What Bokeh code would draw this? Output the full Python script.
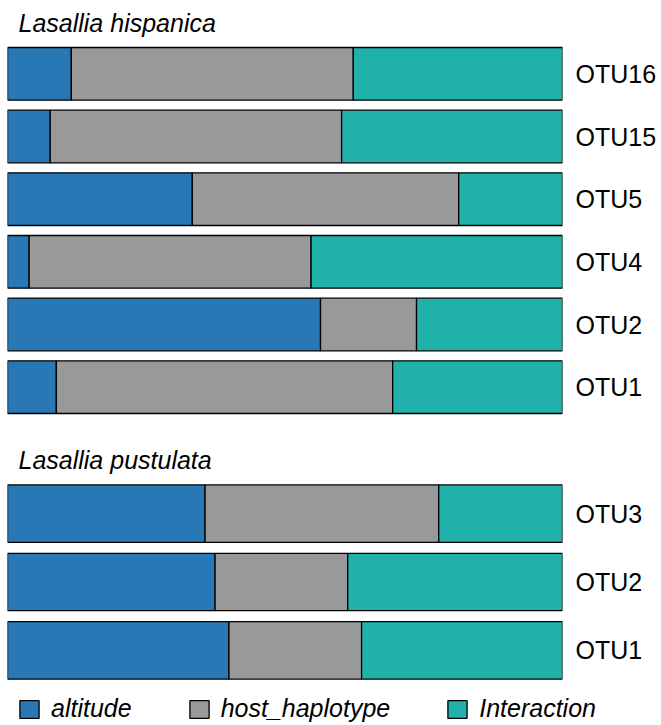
from bokeh.plotting import figure
from bokeh.models import FactorRange, Range1d, Legend, LegendItem, ColumnDataSource
from bokeh.layouts import column
from bokeh.embed import file_html
from bokeh.resources import INLINE

# Variance partition per OTU (fractions), listed bottom-to-top
top_otus = ["OTU1", "OTU2", "OTU4", "OTU5", "OTU15", "OTU16"]
top_altitude = [0.088, 0.564, 0.039, 0.333, 0.077, 0.115]
top_host = [0.606, 0.173, 0.508, 0.480, 0.525, 0.508]
top_inter = [0.306, 0.263, 0.453, 0.187, 0.398, 0.377]

bottom_otus = ["OTU1", "OTU2", "OTU3"]
bottom_altitude = [0.399, 0.374, 0.356]
bottom_host = [0.239, 0.239, 0.421]
bottom_inter = [0.362, 0.387, 0.223]

components = ["altitude", "host_haplotype", "Interaction"]
colors = ["#2878B5", "#999999", "#20B2AA"]

FONT = "Liberation Sans"
SIZE = "25px"


def panel(title, otus, alt, host, inter, frame_height, top_border, bottom_border):
    src = ColumnDataSource(dict(otu=otus, altitude=alt, host_haplotype=host, Interaction=inter))
    p = figure(
        y_range=FactorRange(factors=otus), x_range=Range1d(0, 1),
        frame_width=555, frame_height=frame_height,
        min_border_left=7, min_border_top=top_border, min_border_bottom=bottom_border,
        min_border_right=0,
        x_axis_location=None, y_axis_location="right",
        toolbar_location=None, output_backend="svg",
        title=title,
    )
    renderers = p.hbar_stack(components, y="otu", height=0.84, source=src,
                             fill_color=colors, line_color="black", line_width=1.3)
    p.grid.visible = False
    p.outline_line_color = None
    p.yaxis.axis_line_color = None
    p.yaxis.major_tick_line_color = None
    p.yaxis.major_tick_out = 0
    p.yaxis.major_label_standoff = 13
    p.yaxis.major_label_text_font = FONT
    p.yaxis.major_label_text_font_size = SIZE
    p.yaxis.major_label_text_color = "black"
    p.title.text_font = FONT
    p.title.text_font_size = SIZE
    p.title.text_font_style = "italic"
    p.title.text_color = "black"
    p.title.offset = 11
    p.title.standoff = 12
    return p, renderers


top, _ = panel("Lasallia hispanica", top_otus, top_altitude, top_host, top_inter,
               376, 42, 7)
bottom, rends = panel("Lasallia pustulata", bottom_otus, bottom_altitude, bottom_host,
                      bottom_inter, 205, 54, 41)

legend = Legend(
    items=[LegendItem(label=name, renderers=[r]) for name, r in zip(components, rends)],
    orientation="horizontal", location="top_left",
    glyph_width=24, glyph_height=22, label_standoff=10, spacing=55,
    margin=10, padding=11, border_line_color=None, background_fill_alpha=0,
    label_text_font=FONT, label_text_font_size=SIZE, label_text_font_style="italic",
    label_text_color="black",
)
bottom.add_layout(legend, "below")

layout = column(top, bottom, spacing=0)

open("out.html", "w").write(file_html(layout, INLINE))
